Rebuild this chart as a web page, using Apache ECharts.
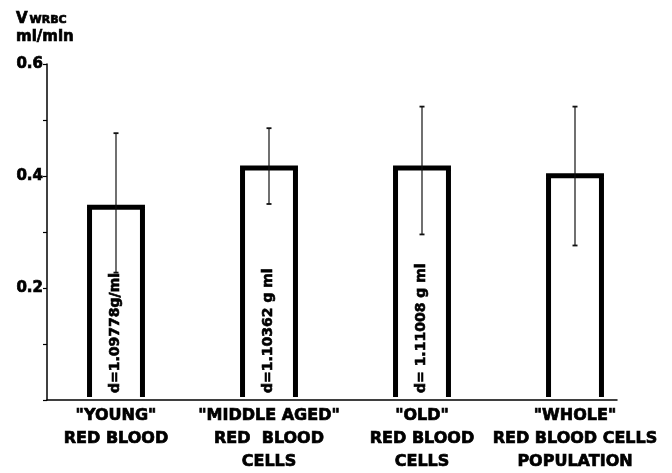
<!DOCTYPE html>
<html><head><meta charset="utf-8">
<script src="https://cdn.jsdelivr.net/npm/echarts@6/dist/echarts.min.js"></script>
<style>html,body{margin:0;padding:0;background:#fff}#c{width:672px;height:473px}</style>
</head><body><div id="c"></div>
<script>
const categories = ['"YOUNG"\nRED BLOOD', '"MIDDLE AGED"\nRED  BLOOD\nCELLS', '"OLD"\nRED BLOOD\nCELLS', '"WHOLE"\nRED BLOOD CELLS\nPOPULATION'];
const meanValues = [0.341, 0.412, 0.412, 0.398];
const errLow = [0.223, 0.347, 0.292, 0.272];
const errHigh = [0.475, 0.484, 0.523, 0.523];
const densityLabels = ['d=1.09778g/ml', 'd=1.10362 g ml', 'd= 1.11008 g ml', ''];
const yLabelValues = [0.2, 0.4, 0.6];

const FONT = '"DejaVu Sans", "Liberation Sans", sans-serif';
const HEAVY = {fontWeight: 'bold', fontFamily: FONT, color: '#000', textBorderColor: '#000', textBorderWidth: 0.7};
const chart = echarts.init(document.getElementById('c'), null, {renderer: 'canvas'});

const option = {
  backgroundColor: '#fff',
  animation: false,
  title: {
    left: 16, top: 9, padding: 0,
    text: '{v|V}{s|WRBC}\n{m|ml/min}',
    textStyle: {
      rich: {
        v: Object.assign({fontSize: 15, lineHeight: 18, verticalAlign: 'bottom'}, HEAVY),
        s: Object.assign({fontSize: 11, lineHeight: 18, verticalAlign: 'bottom', padding: [0, 0, 1, 2]}, HEAVY),
        m: Object.assign({fontSize: 15, lineHeight: 20}, HEAVY)
      }
    }
  },
  grid: [
    {left: 39.5, right: 20.5, top: 64, bottom: 73},
    {left: 47, right: 55, top: 64, bottom: 73}
  ],
  xAxis: [
    {
      gridIndex: 0, type: 'category', data: categories,
      axisLine: {show: false}, axisTick: {show: false}, splitLine: {show: false},
      axisLabel: Object.assign({interval: 0, margin: 8, fontSize: 16, lineHeight: 23}, HEAVY)
    },
    {
      gridIndex: 1, type: 'value', min: 0, max: 1,
      axisLine: {show: true, lineStyle: {color: '#000', width: 1.5}},
      axisTick: {show: false}, axisLabel: {show: false}, splitLine: {show: false}
    }
  ],
  yAxis: [
    {gridIndex: 0, type: 'value', min: 0, max: 0.6, show: false, splitLine: {show: false}},
    {
      gridIndex: 1, type: 'value', min: 0, max: 0.6, interval: 0.1,
      axisLine: {show: true, lineStyle: {color: '#000', width: 1.5}},
      axisTick: {show: true, length: 4, inside: false, lineStyle: {color: '#000', width: 1.2}},
      splitLine: {show: false},
      axisLabel: Object.assign({
        margin: 4, fontSize: 15,
        formatter: function (v) {
          const hit = yLabelValues.find(t => Math.abs(t - v) < 1e-6);
          return hit !== undefined ? hit.toFixed(1) : '';
        }
      }, HEAVY)
    }
  ],
  series: [
    {
      type: 'custom', xAxisIndex: 0, yAxisIndex: 0, z: 2,
      data: meanValues.map((v, i) => [i, v]),
      encode: {x: 0, y: 1},
      renderItem: function (params, api) {
        const i = api.value(0), v = api.value(1);
        const top = api.coord([i, v]);
        const base = api.coord([i, 0]);
        const half = api.size([1, 0])[0] * 0.173;
        const children = [{
          type: 'polyline',
          shape: {points: [[top[0] - half, base[1] + 1], [top[0] - half, top[1]], [top[0] + half, top[1]], [top[0] + half, base[1] + 1]]},
          style: {fill: 'none', stroke: '#000', lineWidth: 5, lineJoin: 'miter'}
        }];
        const lab = densityLabels[params.dataIndex];
        if (lab) {
          children.push({
            type: 'text', x: top[0] - 1, y: base[1] - 3, rotation: Math.PI / 2,
            style: {text: lab, fill: '#000', stroke: '#000', lineWidth: 0.6, fontSize: 14, fontWeight: 'bold', fontFamily: FONT, align: 'left', verticalAlign: 'middle'}
          });
        }
        return {type: 'group', children: children};
      }
    },
    {
      type: 'custom', xAxisIndex: 0, yAxisIndex: 0, z: 3,
      data: errLow.map((lo, i) => [i, lo, errHigh[i]]),
      encode: {x: 0, y: [1, 2]},
      renderItem: function (params, api) {
        const i = api.value(0);
        const lo = api.coord([i, api.value(1)]);
        const hi = api.coord([i, api.value(2)]);
        const cap = 2.5;
        return {type: 'group', children: [
          {type: 'line', shape: {x1: hi[0], y1: hi[1], x2: lo[0], y2: lo[1]}, style: {stroke: '#111', lineWidth: 1.2}},
          {type: 'line', shape: {x1: hi[0] - cap, y1: hi[1], x2: hi[0] + cap, y2: hi[1]}, style: {stroke: '#111', lineWidth: 1.8}},
          {type: 'line', shape: {x1: lo[0] - cap, y1: lo[1], x2: lo[0] + cap, y2: lo[1]}, style: {stroke: '#111', lineWidth: 1.8}}
        ]};
      }
    }
  ]
};
chart.setOption(option);
</script>
</body></html>
